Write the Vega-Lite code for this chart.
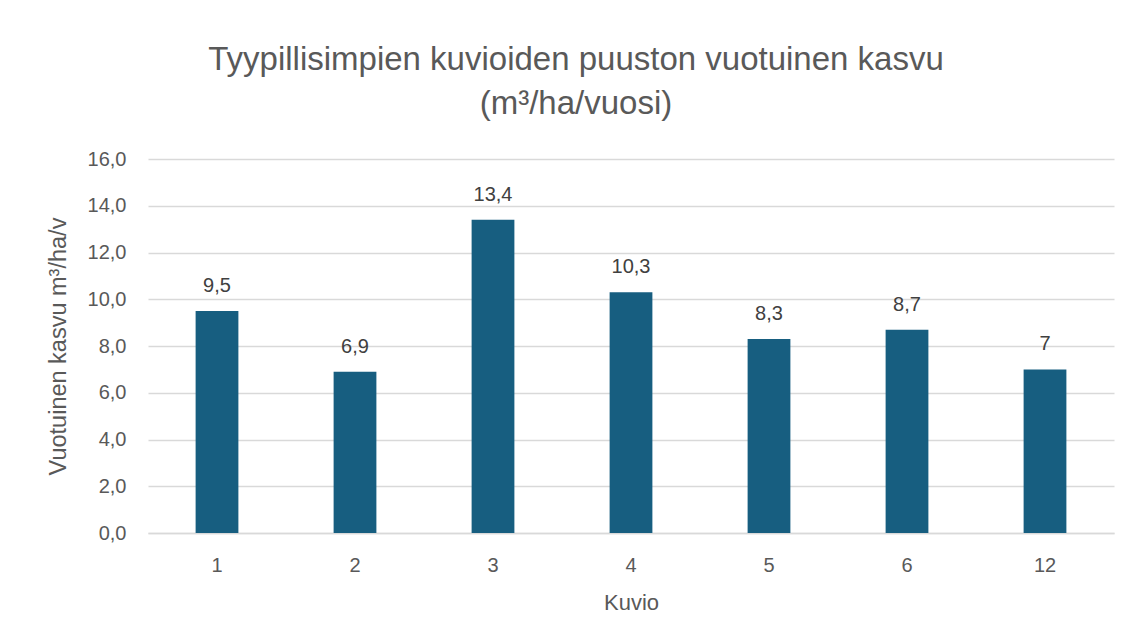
{
  "$schema": "https://vega.github.io/schema/vega-lite/v6.json",
  "width": 966,
  "height": 374,
  "autosize": {"type": "none"},
  "padding": {"left": 148, "top": 159, "right": 17, "bottom": 111},
  "background": "white",
  "config": {"view": {"stroke": null}, "font": "Liberation Sans"},
  "title": {
    "text": ["Tyypillisimpien kuvioiden puuston vuotuinen kasvu", "(m³/ha/vuosi)"],
    "font": "Liberation Sans",
    "fontSize": 33,
    "fontWeight": "normal",
    "color": "#595959",
    "anchor": "middle",
    "dx": -55,
    "offset": 28,
    "lineHeight": 44
  },
  "data": {
    "values": [
      {"kuvio": "1", "kasvu": 9.5, "label": "9,5"},
      {"kuvio": "2", "kasvu": 6.9, "label": "6,9"},
      {"kuvio": "3", "kasvu": 13.4, "label": "13,4"},
      {"kuvio": "4", "kasvu": 10.3, "label": "10,3"},
      {"kuvio": "5", "kasvu": 8.3, "label": "8,3"},
      {"kuvio": "6", "kasvu": 8.7, "label": "8,7"},
      {"kuvio": "12", "kasvu": 7.0, "label": "7"}
    ]
  },
  "encoding": {
    "x": {
      "field": "kuvio",
      "type": "ordinal",
      "sort": null,
      "scale": {"paddingInner": 0.69, "paddingOuter": 0.345},
      "axis": {
        "title": "Kuvio",
        "titleFont": "Liberation Sans",
        "titleFontSize": 22,
        "titleFontWeight": "normal",
        "titleColor": "#595959",
        "titlePadding": 17,
        "labelAngle": 0,
        "labelFont": "Liberation Sans",
        "labelFontSize": 20,
        "labelColor": "#595959",
        "labelPadding": 22,
        "ticks": false,
        "domainColor": "#d9d9d9",
        "domainWidth": 1.5
      }
    },
    "y": {
      "field": "kasvu",
      "type": "quantitative",
      "scale": {"domain": [0, 16]},
      "axis": {
        "title": "Vuotuinen kasvu m³/ha/v",
        "titleFont": "Liberation Sans",
        "titleFontSize": 23.5,
        "titleFontWeight": "normal",
        "titleColor": "#595959",
        "titlePadding": 17,
        "values": [0, 2, 4, 6, 8, 10, 12, 14, 16],
        "labelExpr": "replace(format(datum.value, '.1f'), '.', ',')",
        "labelFont": "Liberation Sans",
        "labelFontSize": 20,
        "labelColor": "#595959",
        "labelPadding": 22,
        "ticks": false,
        "domain": false,
        "grid": true,
        "gridColor": "#d9d9d9",
        "gridWidth": 1.5
      }
    }
  },
  "layer": [
    {"mark": {"type": "bar", "color": "#175e80"}},
    {
      "mark": {"type": "text", "dy": -19, "baseline": "alphabetic", "font": "Liberation Sans", "fontSize": 20, "color": "#404040"},
      "encoding": {"text": {"field": "label"}}
    }
  ]
}
